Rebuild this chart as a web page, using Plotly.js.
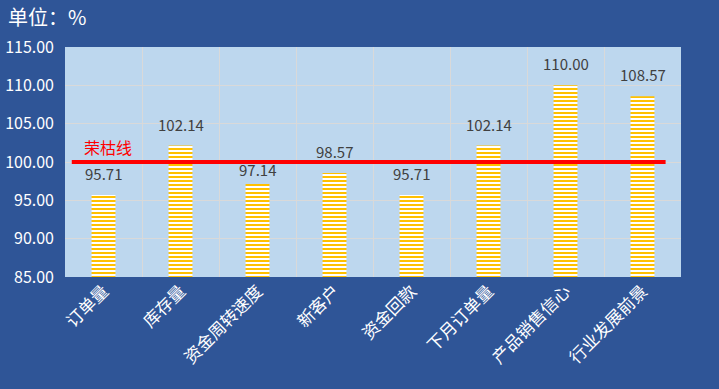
<!DOCTYPE html>
<html><head><meta charset="utf-8">
<script src="https://cdn.plot.ly/plotly-3.0.1.min.js"></script>
<style>html,body{margin:0;padding:0;background:#2F5597;}</style>
</head><body><div id="chart" style="width:719px;height:389px;"></div>
<script>
const categories = ["订单量","库存量","资金周转速度","新客户","资金回款","下月订单量","产品销售信心","行业发展前景"];
const values = [95.71, 102.14, 97.14, 98.57, 95.71, 102.14, 110.00, 108.57];
const rongkuValue = 100;
const rongkuLabel = "荣枯线";
const yTicks = [85, 90, 95, 100, 105, 110, 115];

const font = "'Noto Sans CJK SC', 'Noto Sans', sans-serif";

const bars = {
  type: 'bar', x: categories, y: values, width: 0.31,
  marker: {color: 'white', line: {width: 0},
    pattern: {shape: '-', fgcolor: '#FFC000', bgcolor: '#FFFFFF', size: 4, solidity: 0.5, fillmode: 'replace'}},
  hoverinfo: 'skip'
};

const annotations = categories.map((c, i) => {
  // label would collide with the red line: pull it closer to the bar
  const near = values[i] < rongkuValue - 2 && values[i] > rongkuValue - 4;
  return {
    x: c, y: values[i], xref: 'x', yref: 'y', text: values[i].toFixed(2),
    showarrow: false, yanchor: 'bottom', yshift: near ? 2 : 9,
    font: {family: font, size: 15, color: '#404040'}
  };
});
annotations.push({x: 0.028, y: rongkuValue, xref: 'paper', yref: 'y', text: rongkuLabel,
  showarrow: false, xanchor: 'left', yanchor: 'bottom', yshift: 1,
  font: {family: font, size: 16, color: '#FF0000'}});

const layout = {
  width: 719, height: 389,
  paper_bgcolor: '#2F5597', plot_bgcolor: '#BDD7EE',
  margin: {l: 65, r: 38, t: 47, b: 112},
  title: {text: '单位：%', x: 0.011, xanchor: 'left', y: 0.955, yanchor: 'middle',
    font: {family: font, size: 20, color: '#FFFFFF'}},
  showlegend: false,
  xaxis: {type: 'category', tickson: 'boundaries', showgrid: true, gridcolor: '#D9D9D9', gridwidth: 1,
    ticks: '', tickangle: -45, tickfont: {family: font, size: 17, color: '#FFFFFF'},
    showline: false, zeroline: false, range: [-0.5, 7.5]},
  yaxis: {range: [85, 115], tickvals: yTicks, ticktext: yTicks.map(v => v.toFixed(2)),
    showgrid: true, gridcolor: '#D9D9D9', gridwidth: 1, zeroline: false, showline: false, ticks: '',
    tickfont: {family: font, size: 16, color: '#FFFFFF'}, ticklabelstandoff: 10},
  shapes: [{type: 'line', xref: 'paper', yref: 'y', x0: 0.011, x1: 0.975, y0: rongkuValue, y1: rongkuValue,
    line: {color: '#FF0000', width: 4}, layer: 'above'}],
  annotations: annotations
};

Plotly.newPlot('chart', [bars], layout, {displayModeBar: false, staticPlot: true});
</script></body></html>
